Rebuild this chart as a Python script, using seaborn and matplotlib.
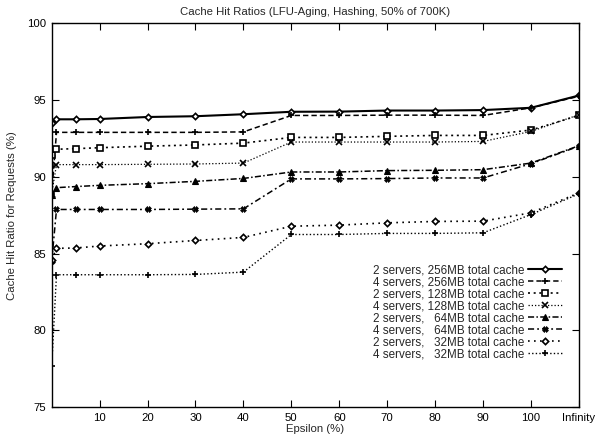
import matplotlib
matplotlib.use("Agg")
import matplotlib.pyplot as plt
import seaborn as sns
import pandas as pd

# Epsilon values (110 stands for "Infinity")
epsilon = [0, 1, 5, 10, 20, 30, 40, 50, 60, 70, 80, 90, 100, 110]

s2_256 = [93.5, 93.75, 93.75, 93.77, 93.9, 93.95, 94.08, 94.24, 94.25, 94.32, 94.32, 94.35, 94.5, 95.3]
s4_256 = [88.9, 92.9, 92.9, 92.9, 92.9, 92.9, 92.93, 94.0, 94.0, 94.02, 94.02, 94.0, 94.5, 95.25]
s2_128 = [91.45, 91.8, 91.84, 91.9, 92.0, 92.08, 92.2, 92.57, 92.57, 92.64, 92.7, 92.7, 93.05, 94.0]
s4_128 = [88.9, 90.8, 90.8, 90.8, 90.82, 90.84, 90.9, 92.27, 92.27, 92.27, 92.27, 92.31, 92.96, 94.05]
s2_64 = [88.8, 89.3, 89.37, 89.45, 89.56, 89.71, 89.9, 90.32, 90.32, 90.41, 90.43, 90.47, 90.9, 92.03]
s4_64 = [84.5, 87.88, 87.88, 87.88, 87.88, 87.9, 87.92, 89.87, 89.87, 89.89, 89.93, 89.93, 90.86, 92.0]
s2_32 = [84.6, 85.35, 85.37, 85.5, 85.65, 85.86, 86.06, 86.79, 86.86, 87.01, 87.1, 87.12, 87.66, 88.96]
s4_32 = [77.7, 83.63, 83.63, 83.63, 83.63, 83.65, 83.8, 86.25, 86.25, 86.32, 86.32, 86.36, 87.55, 88.9]

labels = [
    "2 servers, 256MB total cache",
    "4 servers, 256MB total cache",
    "2 servers, 128MB total cache",
    "4 servers, 128MB total cache",
    "2 servers,   64MB total cache",
    "4 servers,   64MB total cache",
    "2 servers,   32MB total cache",
    "4 servers,   32MB total cache",
]
series = [s2_256, s4_256, s2_128, s4_128, s2_64, s4_64, s2_32, s4_32]

x_ticks = [10, 20, 30, 40, 50, 60, 70, 80, 90, 100, 110]
x_ticklabels = ["10", "20", "30", "40", "50", "60", "70", "80", "90", "100", "Infinity"]
y_ticks = [75, 80, 85, 90, 95, 100]

styles = [
    dict(ls="-", lw=1.5, marker="D", ms=3.2, mfc="white", mew=1.2),
    dict(ls=(0, (3.5, 2)), lw=1.1, marker="+", ms=5, mfc="black", mew=1.2),
    dict(ls=(0, (1.2, 2.2)), lw=1.2, marker="s", ms=4, mfc="white", mew=1.2),
    dict(ls=(0, (1, 1.6)), lw=0.9, marker="x", ms=4, mfc="black", mew=1.2),
    dict(ls=(0, (4, 1.5, 1, 1.5)), lw=1.1, marker="^", ms=4.2, mfc="black", mew=0.8),
    dict(ls=(0, (4, 2, 1.2, 2)), lw=1.1, marker="X", ms=4.2, mfc="black", mew=0.5),
    dict(ls=(0, (1, 2.6)), lw=1.2, marker="D", ms=3.2, mfc="white", mew=1.2),
    dict(ls=(0, (1, 1.6)), lw=1.0, marker="+", ms=5, mfc="black", mew=1.2),
]

sns.set_theme(style="ticks")
plt.rcParams["font.family"] = ["Liberation Sans", "DejaVu Sans"]
plt.rcParams["font.size"] = 8.2

fig = plt.figure(figsize=(5.95, 4.38), dpi=100)
ax = fig.add_axes([0.0869, 0.0701, 0.973 - 0.0869, 0.9468 - 0.0701])

for vals, lab, st in zip(series, labels, styles):
    df = pd.DataFrame({"epsilon": epsilon, "hit": vals})
    sns.lineplot(data=df, x="epsilon", y="hit", ax=ax, color="black",
                 linestyle=st["ls"], linewidth=st["lw"], marker=st["marker"],
                 markersize=st["ms"], markerfacecolor=st["mfc"],
                 markeredgecolor="black", markeredgewidth=st["mew"],
                 label=lab)

ax.set_xlim(0, 110)
ax.set_ylim(75, 100)
ax.set_xticks(x_ticks)
ax.set_xticklabels(x_ticklabels)
ax.set_yticks(y_ticks)
ax.tick_params(direction="in", length=5, width=0.8, top=True, right=True,
               labelsize=8.2, colors="black", pad=4)
for sp in ax.spines.values():
    sp.set_linewidth(1.0)
    sp.set_color("black")

ax.set_xlabel("Epsilon (%)", fontsize=8.2, labelpad=1)
ax.set_ylabel("Cache Hit Ratio for Requests (%)", fontsize=8.2, labelpad=7)
ax.set_title("Cache Hit Ratios (LFU-Aging, Hashing, 50% of 700K)", fontsize=8.2, pad=6)

leg = ax.legend(loc="lower right", bbox_to_anchor=(0.968, 0.123), frameon=False,
                markerfirst=False, fontsize=8.4, handlelength=2.9,
                labelspacing=0.0, handletextpad=0.3, borderpad=0.0,
                borderaxespad=0.0)

fig.savefig("out.png", dpi=100)
